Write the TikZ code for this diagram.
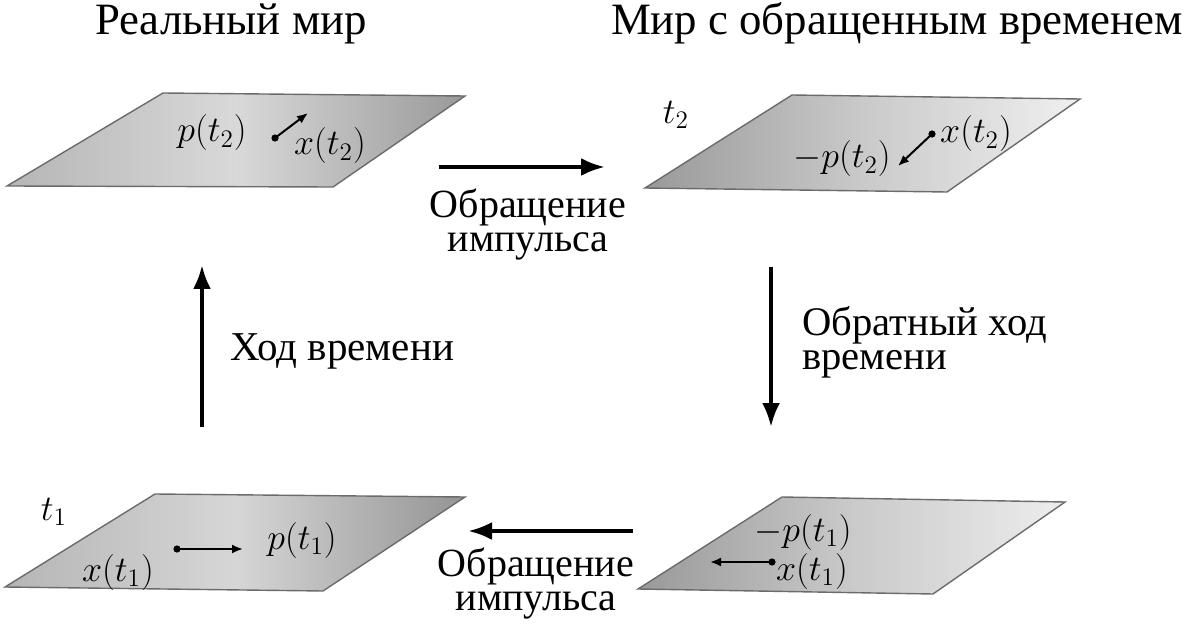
\RequirePackage{fix-cm}
\documentclass[tikz,border=0pt]{standalone}
\usepackage{fontspec}
\setmainfont{Liberation Serif}
\usetikzlibrary{arrows.meta}
\definecolor{edgegray}{gray}{0.42}
\begin{document}
\begin{tikzpicture}[x=0.5pt,y=-0.5pt,
  plane/.style={draw=edgegray, line width=0.7pt},
  bigarrow/.style={line width=2pt, -{Latex[length=12pt,width=9pt]}},
  smallarrow/.style={line width=1pt, -{Latex[length=5.5pt,width=4.5pt]}},
  dotmark/.style={circle, fill=black, inner sep=0pt, minimum size=3.6pt},
  titletext/.style={font=\fontsize{22.4}{26}\selectfont, inner sep=0pt},
  labeltext/.style={font=\fontsize{20}{17}\selectfont, inner sep=0pt, align=center},
  labeltextl/.style={font=\fontsize{20.3}{17}\selectfont, inner sep=0pt, align=left},
  mathtext/.style={font=\fontsize{18}{22}\selectfont, inner sep=0pt}]
\useasboundingbox (0,0) rectangle (1192,625);

% planes
\shade[plane, left color={black!29}, right color={black!40}, middle color={black!15}]
  (163,93) -- (465,96) -- (333,187) -- (7,186) -- cycle;
\shade[plane, left color={black!40}, right color={black!6}, middle color={black!21}]
  (792,95) -- (1080,99) -- (947,192) -- (645,188) -- cycle;
\shade[plane, left color={black!29}, right color={black!42}, middle color={black!16}]
  (155,494) -- (465,497) -- (323,591) -- (5,587) -- cycle;
\shade[plane, left color={black!40}, right color={black!7}, middle color={black!21}]
  (782,497) -- (1065,502) -- (933,594) -- (638,589) -- cycle;

% titles
\node[titletext, anchor=base] (title1) at (231,35) {Реальный мир};
\node[titletext, anchor=base] (title2) at (897,35) {Мир с обращенным временем};

% big arrows
\coordinate (ta1) at (439,167); \coordinate (ta2) at (605,167);
\coordinate (ra1) at (771,267); \coordinate (ra2) at (771,427);
\coordinate (la1) at (202,427); \coordinate (la2) at (202,265);
\coordinate (ba1) at (633,531); \coordinate (ba2) at (468,531);
\draw[bigarrow] (ta1) -- (ta2);
\draw[bigarrow] (ra1) -- (ra2);
\draw[bigarrow] (la1) -- (la2);
\draw[bigarrow] (ba1) -- (ba2);

% arrow labels
\node[labeltext] (mt) at (528,225) {Обращение\\импульса};
\node[labeltext] (mb) at (536,583) {Обращение\\импульса};
\node[labeltext, anchor=base west, font=\fontsize{20.5}{17}\selectfont] (lv) at (230,360) {Ход времени};
\node[labeltextl, anchor=west] (rv) at (802,342) {Обратный ход\\времени};

% top-left plane contents
\node[mathtext] (tlp) at (212,133) {$p(t_2)$};
\node[mathtext] (tlx) at (330,146) {$x(t_2)$};
\node[dotmark] (tld) at (275,138) {};
\coordinate (tlt) at (308,113);
\draw[smallarrow] (tld.center) -- (tlt);

% top-right plane contents
\node[mathtext] (trt) at (676,115) {$t_2$};
\node[mathtext] (trp) at (842,159) {$-p(t_2)$};
\node[mathtext] (trx) at (976,134) {$x(t_2)$};
\node[dotmark] (trd) at (932,134) {};
\coordinate (trtip) at (898,166);
\draw[smallarrow] (trd.center) -- (trtip);

% bottom-left plane contents
\node[mathtext] (blt) at (54,512) {$t_1$};
\node[mathtext] (blx) at (118,572) {$x(t_1)$};
\node[mathtext] (blp) at (302,540) {$p(t_1)$};
\node[dotmark] (bld) at (177,549) {};
\coordinate (bltip) at (243,549);
\draw[smallarrow] (bld.center) -- (bltip);

% bottom-right plane contents
\node[mathtext] (brp) at (803,532) {$-p(t_1)$};
\node[mathtext] (brx) at (812,571) {$x(t_1)$};
\node[dotmark] (brd) at (772,562) {};
\coordinate (brtip) at (710,562);
\draw[smallarrow] (brd.center) -- (brtip);
\end{tikzpicture}
\end{document}
